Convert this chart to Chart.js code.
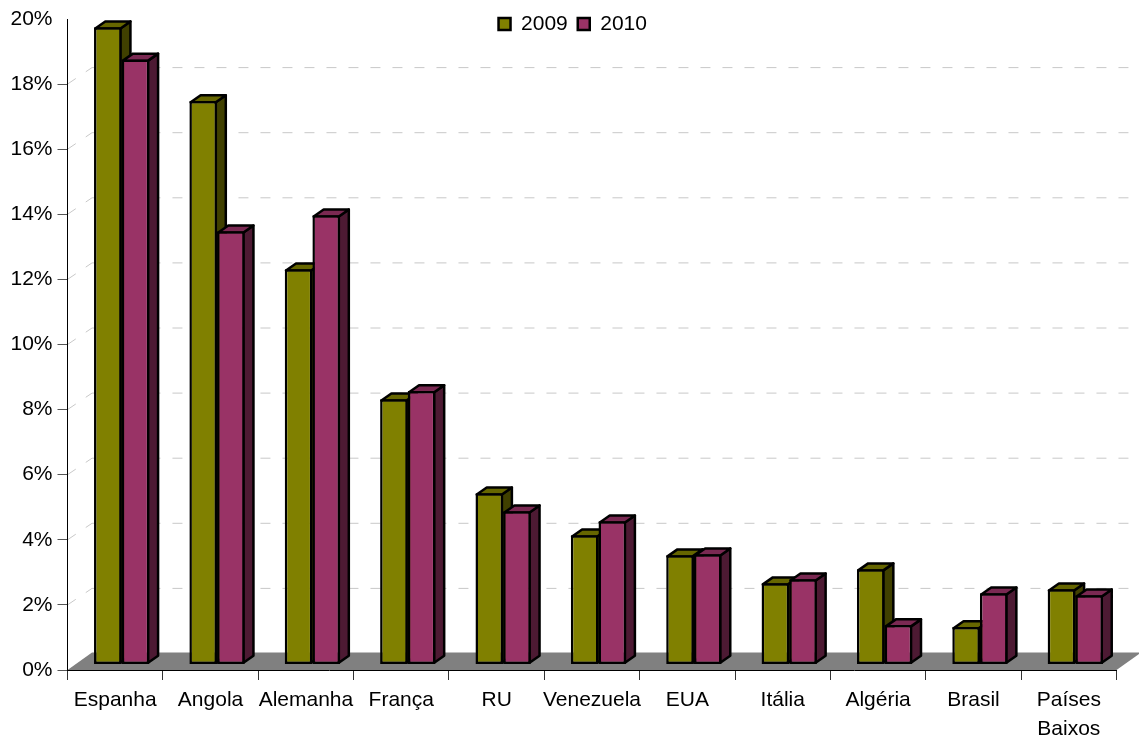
<!DOCTYPE html>
<html>
<head>
<meta charset="utf-8">
<title>Chart</title>
<script src="https://cdn.jsdelivr.net/npm/chart.js@4"></script>
<style>
  html, body { margin: 0; padding: 0; background: #fff; }
  canvas { display: block; }
</style>
</head>
<body>
<canvas id="exportChart" width="1139" height="740"></canvas>
<script>
const categories = ["Espanha", "Angola", "Alemanha", "França", "RU", "Venezuela", "EUA", "Itália", "Algéria", "Brasil", ["Países", "Baixos"]];
const values2009 = [19.58, 17.31, 12.14, 8.15, 5.26, 3.97, 3.36, 2.5, 2.93, 1.15, 2.31];
const values2010 = [18.59, 13.31, 13.8, 8.4, 4.71, 4.4, 3.39, 2.62, 1.21, 2.19, 2.13];
const yTicks = [2, 4, 6, 8, 10, 12, 14, 16, 18];

const FONT = "Liberation Sans";
const BORDER = 2.5;
const olive = { front: "#808000", top: "#666600", side: "#404000" };
const purple = { front: "#993366", top: "#7a2952", side: "#4d1a33" };

// 3d look: floor + dashed back wall lines
const wallPlugin = {
  id: "wall",
  beforeDraw(chart) {
    const { ctx, chartArea } = chart;
    const y0 = chart.scales.y.getPixelForValue(0);
    const dx = 24.5, dy = -17.5;

    ctx.save();
    ctx.fillStyle = "#808080";
    ctx.beginPath();
    ctx.moveTo(chartArea.left, y0);
    ctx.lineTo(chartArea.left + dx, y0 + dy);
    ctx.lineTo(chartArea.right + dx, y0 + dy);
    ctx.lineTo(chartArea.right, y0);
    ctx.closePath();
    ctx.fill();

    ctx.strokeStyle = "#c8c8c8";
    ctx.lineWidth = 1;
    yTicks.forEach(v => {
      const y = chart.scales.y.getPixelForValue(v);
      ctx.setLineDash([10, 12]);
      ctx.beginPath();
      ctx.moveTo(chartArea.left, y);
      ctx.lineTo(chartArea.left + dx, y - 16.5);
      ctx.lineTo(chartArea.right + dx, y - 16.5);
      ctx.stroke();
    });
    ctx.restore();
  }
};

// sides and tops of the bars, the fronts come from Chart.js
const barsPlugin = {
  id: "bars3d",
  beforeLayout(chart) {
    // legend floats above the plot, it must not take any height from it
    const legend = chart.legend;
    if (!legend.patched) {
      const fit = legend.fit;
      legend.fit = function () {
        fit.call(this);
        this.height = 0;
      };
      legend.patched = true;
    }
  },
  afterLayout(chart) {
    const legend = chart.legend;
    legend.top = 3.5;
    legend.bottom = 45;
    legend.left += 14.5;
    legend.right += 14.5;
  },
  beforeDatasetsDraw(chart) {
    const { ctx } = chart;
    const depthX = 10, depthY = -7;
    const inset = BORDER / 2;
    ctx.save();
    ctx.translate(6.5, -5.5);

    [olive, purple].forEach((colors, i) => {
      chart.getDatasetMeta(i).data.forEach(bar => {
        const l = bar.x - bar.width / 2 + inset;
        const r = bar.x + bar.width / 2 - inset;
        const t = bar.y + inset;
        const b = bar.base - inset;
        ctx.lineWidth = BORDER;
        ctx.strokeStyle = "#000";
        ctx.lineJoin = "round";

        ctx.fillStyle = colors.side;
        ctx.beginPath();
        ctx.moveTo(r, t);
        ctx.lineTo(r + depthX, t + depthY);
        ctx.lineTo(r + depthX, b + depthY);
        ctx.lineTo(r, b);
        ctx.closePath();
        ctx.fill();
        ctx.stroke();

        ctx.fillStyle = colors.top;
        ctx.beginPath();
        ctx.moveTo(l, t);
        ctx.lineTo(l + depthX, t + depthY);
        ctx.lineTo(r + depthX, t + depthY);
        ctx.lineTo(r, t);
        ctx.closePath();
        ctx.fill();
        ctx.stroke();
      });
    });
  },
  afterDatasetsDraw(chart) {
    chart.ctx.restore();
  }
};

new Chart(document.getElementById("exportChart").getContext("2d"), {
  type: "bar",
  data: {
    labels: categories,
    datasets: [
      { label: "2009", data: values2009, backgroundColor: olive.front, borderColor: "#000", borderWidth: BORDER, borderSkipped: false },
      { label: "2010", data: values2010, backgroundColor: purple.front, borderColor: "#000", borderWidth: BORDER, borderSkipped: false }
    ]
  },
  options: {
    responsive: false,
    animation: false,
    categoryPercentage: 0.58,
    barPercentage: 1,
    layout: { padding: { top: 19, right: 22.5, left: 0, bottom: 0 } },
    plugins: {
      tooltip: { enabled: false },
      legend: {
        position: "top",
        labels: {
          color: "#000",
          boxWidth: 12,
          boxHeight: 12,
          padding: 10,
          font: { family: FONT, size: 21 }
        }
      }
    },
    scales: {
      x: {
        afterFit(scale) { scale.height = 70; },
        border: { color: "#000", width: 1 },
        grid: { offset: true, drawOnChartArea: false, tickLength: 10, tickColor: "#333" },
        ticks: { color: "#000", maxRotation: 0, autoSkip: false, padding: 6, font: { family: FONT, size: 21, lineHeight: 1.38 } }
      },
      y: {
        min: 0,
        max: 20,
        afterFit(scale) { scale.width = 67.5; },
        border: { color: "#000", width: 1 },
        grid: { drawOnChartArea: false, tickLength: 10, tickColor: c => c.tick && c.tick.value === 20 ? "transparent" : "#555" },
        ticks: { stepSize: 2, color: "#000", padding: 5, font: { family: FONT, size: 21 }, callback: v => v + "%" }
      }
    }
  },
  plugins: [wallPlugin, barsPlugin]
});
</script>
</body>
</html>
